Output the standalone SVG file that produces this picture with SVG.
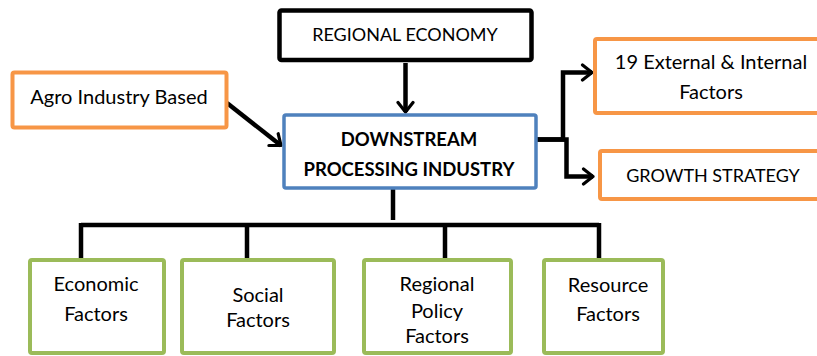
<svg xmlns="http://www.w3.org/2000/svg" width="817" height="356" viewBox="0 0 817 356">
<defs>
<style>
.t{font-family:Lato,"Open Sans","Liberation Sans",sans-serif;font-size:20px;fill:#000;text-anchor:middle}
.u{font-size:18px}
.b{font-weight:bold;font-size:18.5px}
.box{fill:#fff}
.blk{stroke:#000;stroke-width:4.5}
.org{stroke:#F79646;stroke-width:4}
.blu{stroke:#4F81BD;stroke-width:3.5}
.grn{stroke:#9BBB59;stroke-width:4}
.c{fill:none;stroke:#000;stroke-width:4.5}
.a{marker-end:url(#ah)}
</style>
<marker id="ah" viewBox="0 0 14 20" refX="12" refY="10" markerWidth="14" markerHeight="20" markerUnits="userSpaceOnUse" orient="auto">
<path d="M2.5,2.5 L12,10 L2.5,17.5" fill="none" stroke="#000" stroke-width="3.2" stroke-linecap="round" stroke-linejoin="round"/>
</marker>
</defs>
<rect width="817" height="356" fill="#fff"/>
<g id="connectors">
<path class="c a" d="M405.5,63 V112"/>
<path class="c a" d="M227,103 L281,145.5"/>
<path class="c a" d="M537,139.5 H563 V72.5 H592"/>
<path class="c a" d="M537,139.5 H566.5 V176.5 H593"/>
<path class="c" d="M393,189 V220"/>
<path class="c" d="M81,225 H599"/>
<path class="c" d="M81,223 V258"/>
<path class="c" d="M247,223 V258"/>
<path class="c" d="M445,223 V258"/>
<path class="c" d="M599,223 V258"/>
</g>
<g id="regional-economy">
<rect class="box blk" x="279.5" y="10.5" width="252" height="49.5" rx="2"/>
<text class="t u" x="405" y="41">REGIONAL ECONOMY</text>
</g>
<g id="agro">
<rect class="box org" x="12.5" y="72.5" width="214" height="55" rx="2"/>
<text class="t" x="119" y="104">Agro Industry Based</text>
</g>
<g id="downstream">
<rect class="box blu" x="284" y="115" width="252" height="73" rx="2"/>
<text class="t b" x="409" y="146">DOWNSTREAM</text>
<text class="t b" x="409" y="176">PROCESSING INDUSTRY</text>
</g>
<g id="external-internal">
<rect class="box org" x="595" y="39" width="240" height="74" rx="2"/>
<text class="t" x="711" y="69">19 External &amp; Internal</text>
<text class="t" x="711" y="99">Factors</text>
</g>
<g id="growth">
<rect class="box org" x="600" y="151" width="240" height="48" rx="2"/>
<text class="t u" x="713" y="182">GROWTH STRATEGY</text>
</g>
<g id="economic">
<rect class="box grn" x="30" y="260" width="134" height="93" rx="2"/>
<text class="t" x="96" y="291">Economic</text>
<text class="t" x="96" y="321">Factors</text>
</g>
<g id="social">
<rect class="box grn" x="182" y="260" width="152" height="93" rx="2"/>
<text class="t" x="258" y="302">Social</text>
<text class="t" x="258" y="327">Factors</text>
</g>
<g id="regional-policy">
<rect class="box grn" x="364" y="260" width="147" height="93" rx="2"/>
<text class="t" x="437" y="291">Regional</text>
<text class="t" x="437" y="318">Policy</text>
<text class="t" x="437" y="343">Factors</text>
</g>
<g id="resource">
<rect class="box grn" x="544" y="260" width="119" height="93" rx="2"/>
<text class="t" x="608" y="292">Resource</text>
<text class="t" x="608" y="321">Factors</text>
</g>
</svg>
